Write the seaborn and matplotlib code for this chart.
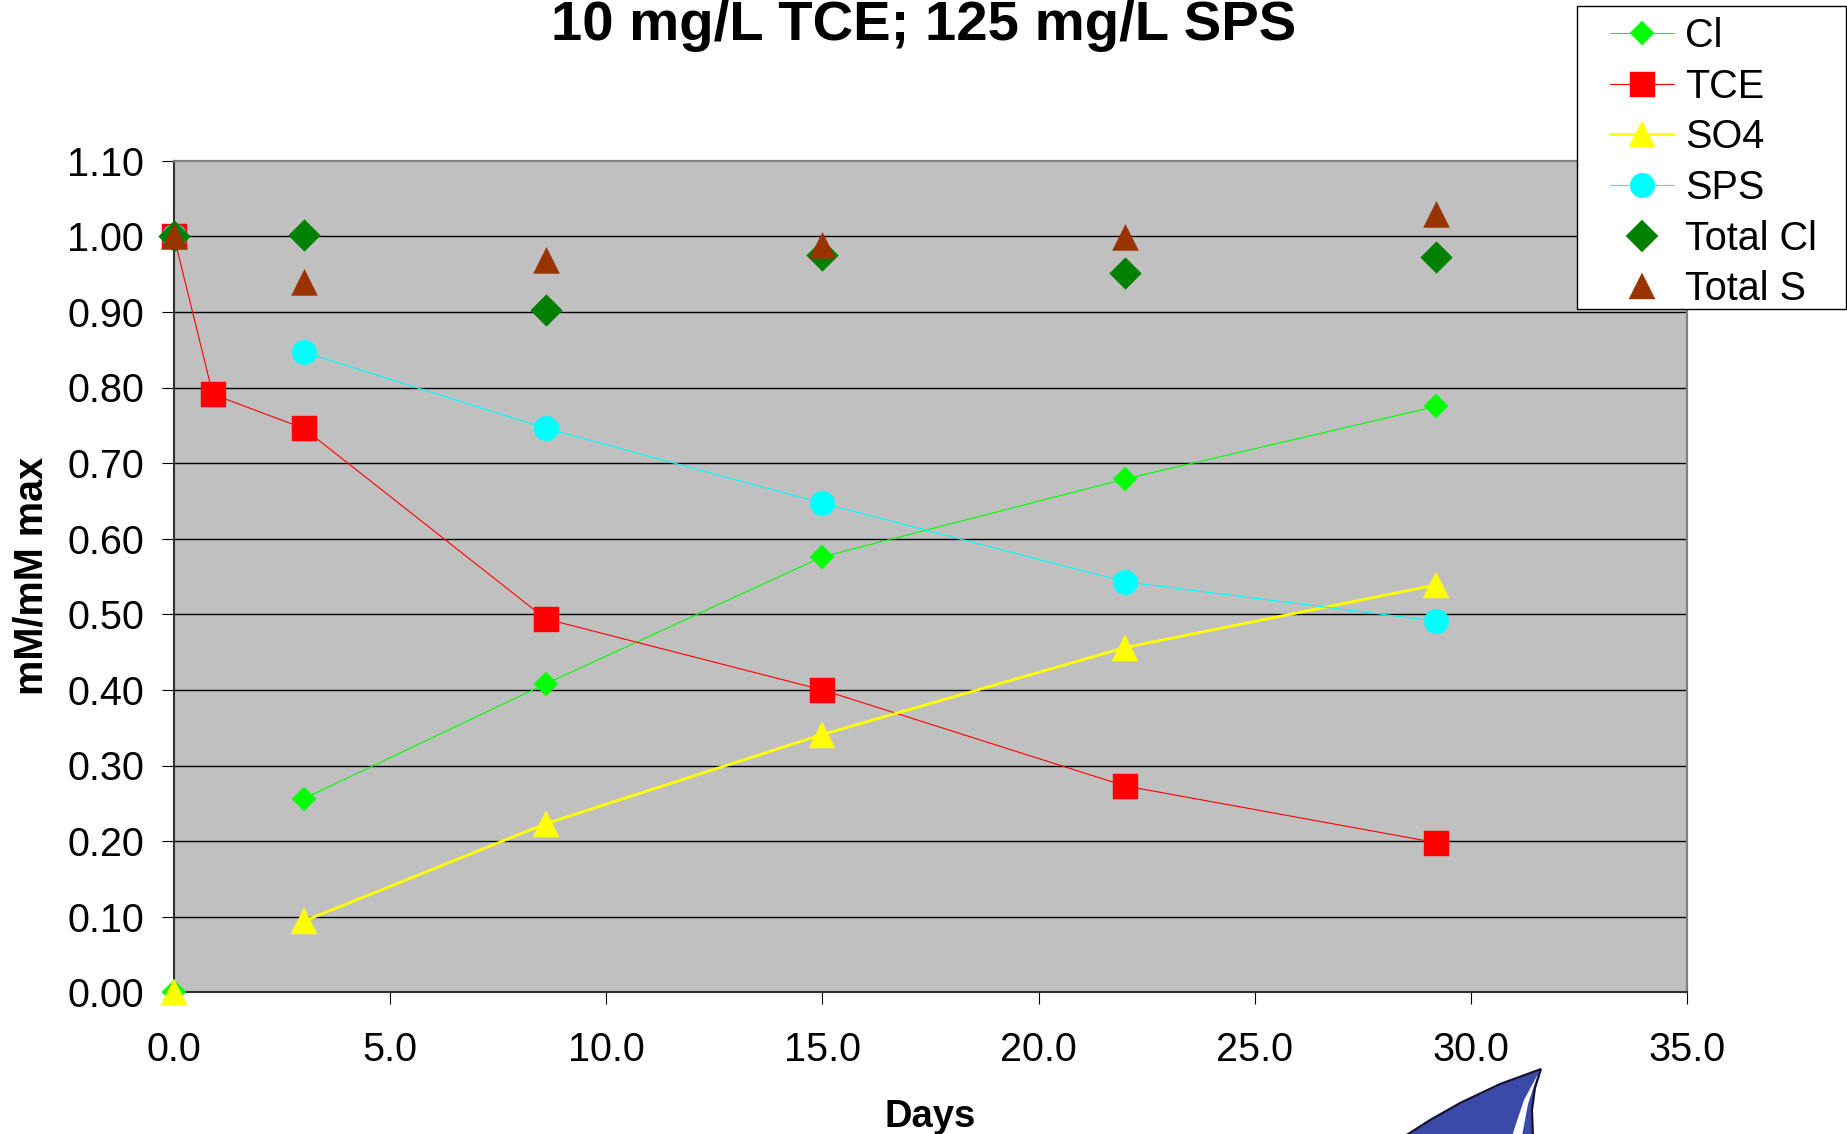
import numpy as np
import pandas as pd
import matplotlib
matplotlib.use("Agg")
import matplotlib.pyplot as plt
import seaborn as sns
from matplotlib.lines import Line2D
from matplotlib.patches import Rectangle, Polygon

# ---------------- data ----------------
days = [0.0, 0.9, 3.0, 8.6, 15.0, 22.0, 29.2]
cl = [0.000, np.nan, 0.256, 0.408, 0.576, 0.679, 0.775]
tce = [1.000, 0.791, 0.746, 0.494, 0.400, 0.273, 0.198]
so4 = [0.000, np.nan, 0.094, 0.223, 0.341, 0.456, 0.539]
sps = [1.000, np.nan, 0.847, 0.746, 0.647, 0.543, 0.491]
total_cl = [1.000, np.nan, 1.002, 0.902, 0.975, 0.951, 0.973]
total_s = [1.000, np.nan, 0.940, 0.969, 0.989, 0.999, 1.030]

series_names = ["Cl", "TCE", "SO4", "SPS", "Total Cl", "Total S"]
x_ticks = [0, 5, 10, 15, 20, 25, 30, 35]
x_tick_labels = ["0.0", "5.0", "10.0", "15.0", "20.0", "25.0", "30.0", "35.0"]
y_ticks = [0.0, 0.1, 0.2, 0.3, 0.4, 0.5, 0.6, 0.7, 0.8, 0.9, 1.0, 1.1]
y_tick_labels = ["0.00", "0.10", "0.20", "0.30", "0.40", "0.50", "0.60",
                 "0.70", "0.80", "0.90", "1.00", "1.10"]
title = "10 mg/L TCE; 125 mg/L SPS"
x_label = "Days"
y_label = "mM/mM max"

# ---------------- style ----------------
sns.set_style("white")
plt.rcParams["font.family"] = ["Liberation Sans", "DejaVu Sans"]
plt.rcParams["text.color"] = "black"
plt.rcParams["axes.labelcolor"] = "black"
plt.rcParams["xtick.color"] = "black"
plt.rcParams["ytick.color"] = "black"

W, H = 1847, 1134
fig = plt.figure(figsize=(W / 100, H / 100), dpi=100)
fig.patch.set_facecolor("white")

left_px, right_px, top_px, bot_px = 173.9, 1687.0, 160.7, 992.3
ax = fig.add_axes([left_px / W, 1 - bot_px / H,
                   (right_px - left_px) / W, (bot_px - top_px) / H])
ax.set_facecolor("#C0C0C0")

line_specs = [
    ("Cl", cl, "#00FF00", "D", 12.7, 0.8),
    ("TCE", tce, "#FF0000", "s", 18.0, 0.8),
    ("SO4", so4, "#FFFF00", "^", 18.7, 2.0),
    ("SPS", sps, "#00FFFF", "o", 17.8, 0.8),
]
scatter_specs = [
    ("Total Cl", total_cl, "#008000", "D", 16.1),
    ("Total S", total_s, "#993300", "^", 18.7),
]

z = 3
for name, vals, color, marker, ms, lw in line_specs:
    df = pd.DataFrame({"Day": days, "value": vals})
    df["seg"] = np.cumsum(df["value"].isna().to_numpy())
    df = df.dropna()
    sns.lineplot(data=df, x="Day", y="value", units="seg", estimator=None,
                 sort=False, color=color, lw=lw, marker=marker, markersize=ms,
                 markeredgecolor=color, markeredgewidth=0.3,
                 clip_on=False, zorder=z, ax=ax, legend=False)
    z += 1

for name, vals, color, marker, ms in scatter_specs:
    df = pd.DataFrame({"Day": days, "value": vals}).dropna()
    sns.scatterplot(data=df, x="Day", y="value", marker=marker, s=ms ** 2,
                    color=color, edgecolor=color, linewidth=0.3,
                    clip_on=False, zorder=z, ax=ax, legend=False)
    z += 1

ax.set_xlim(0, 35)
ax.set_ylim(0, 1.1)
ax.set_xticks(x_ticks)
ax.set_xticklabels(x_tick_labels)
ax.set_yticks(y_ticks)
ax.set_yticklabels(y_tick_labels)
ax.set_xlabel("")
ax.set_ylabel("")

ax.grid(False)
for yv in y_ticks[1:-1]:
    ax.axhline(yv, color="#000000", lw=1.0, zorder=1)

ax.tick_params(axis="both", which="major", direction="out", length=8.6,
               width=0.8, color="black", labelsize=28.5, labelcolor="black")
ax.tick_params(axis="y", pad=13.0, left=True, right=False)
ax.tick_params(axis="x", pad=19, bottom=True, top=False)

for side in ["left", "bottom"]:
    ax.spines[side].set_color("#303030")
    ax.spines[side].set_linewidth(1.5)
for side in ["top", "right"]:
    ax.spines[side].set_color("#808080")
    ax.spines[side].set_linewidth(1.6)

# ---------------- texts ----------------
fig.text(0.5, 1 - 40 / H, title, ha="center", va="baseline",
         fontsize=40.5, fontweight="bold", color="black")
fig.text((left_px + right_px) / 2 / W, 1 - 1127 / H, x_label, ha="center",
         va="baseline", fontsize=27.5, fontweight="bold", color="black")
fig.text(32 / W, 1 - 576 / H, y_label, rotation=90, ha="center",
         va="center", fontsize=28.5, fontweight="bold", color="black")

# ---------------- legend ----------------
handles = []
for name, vals, color, marker, ms, lw in line_specs:
    handles.append(Line2D([], [], color=color, lw=lw, marker=marker,
                          markersize=ms, markeredgecolor=color,
                          markeredgewidth=0.3))
for name, vals, color, marker, ms in scatter_specs:
    handles.append(Line2D([], [], color=color, lw=0, marker=marker,
                          markersize=ms, markeredgecolor=color,
                          markeredgewidth=0.3))

fig.patches.append(Rectangle((1577 / W, 1 - 309 / H), (1846 - 1577) / W,
                             (309 - 6) / H, transform=fig.transFigure,
                             facecolor="white", edgecolor="black", lw=1.0,
                             zorder=10))
leg_fs = 28.5
fs_px = leg_fs * 100 / 72
leg = fig.legend(handles, series_names, loc="upper left",
                 bbox_to_anchor=(1610 / W, 1 - 17 / H),
                 bbox_transform=fig.transFigure, frameon=False,
                 borderpad=0, borderaxespad=0, fontsize=leg_fs,
                 handlelength=64 / fs_px, handletextpad=11 / fs_px,
                 labelspacing=0.32, handleheight=0.7)
leg.set_zorder(11)
for t in leg.get_texts():
    t.set_color("black")

# ---------------- logo fragment (decoration) ----------------
def px(pts):
    return [(x / W, 1 - y / H) for x, y in pts]

logo = Polygon(px([(1541, 1069), (1500, 1084), (1460, 1103), (1430, 1120),
                   (1405, 1136), (1533, 1136), (1532, 1110), (1535, 1088)]),
               closed=True, transform=fig.transFigure, facecolor="#3A4AA6",
               edgecolor="#101030", lw=1.5, zorder=5)
streak = Polygon(px([(1538, 1074), (1524, 1100), (1512, 1136), (1522, 1136),
                     (1528, 1104)]),
                 closed=True, transform=fig.transFigure, facecolor="white",
                 edgecolor="none", zorder=6)
fig.patches.extend([logo, streak])

fig.savefig("out.png", dpi=100, facecolor="white")
